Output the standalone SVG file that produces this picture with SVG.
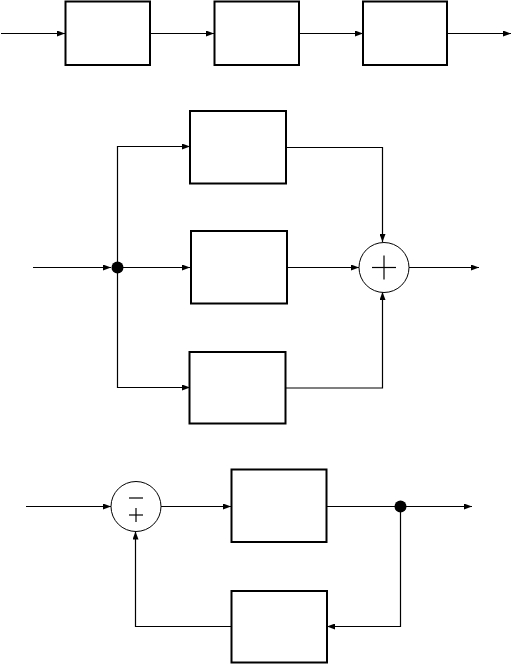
<svg xmlns="http://www.w3.org/2000/svg" width="513" height="665" viewBox="0 0 513 665">
<defs>
<marker id="ah" markerWidth="8" markerHeight="6" refX="8" refY="3" orient="auto" markerUnits="userSpaceOnUse">
<path d="M0,0 L8,3 L0,6 Z" fill="#000"/>
</marker>
<style>
.box{fill:#fff;stroke:#000;stroke-width:2}
.ln{fill:none;stroke:#000;stroke-width:1.2}
.ar{fill:none;stroke:#000;stroke-width:1.2;marker-end:url(#ah)}
.sum{fill:#fff;stroke:#000;stroke-width:1}
.dot{fill:#000}
</style>
</defs>
<rect width="513" height="665" fill="#fff"/>
<g id="connectors">
<!-- top chain -->
<line class="ar" x1="1" y1="33.5" x2="65" y2="33.5"/>
<line class="ar" x1="150" y1="33.5" x2="214" y2="33.5"/>
<line class="ar" x1="299" y1="33.5" x2="363" y2="33.5"/>
<line class="ar" x1="447" y1="33.5" x2="511" y2="33.5"/>
<!-- parallel -->
<line class="ar" x1="33" y1="267.5" x2="111" y2="267.5"/>
<polyline class="ar" points="117.5,267 117.5,146.5 190,146.5"/>
<line class="ar" x1="123" y1="267.5" x2="190" y2="267.5"/>
<polyline class="ar" points="117.5,267 117.5,387.5 190,387.5"/>
<polyline class="ar" points="286,147.5 382.5,147.5 382.5,242"/>
<line class="ar" x1="287" y1="267.5" x2="359" y2="267.5"/>
<polyline class="ar" points="286,388 382.5,388 382.5,292"/>
<line class="ar" x1="409" y1="267.5" x2="479" y2="267.5"/>
<!-- feedback -->
<line class="ar" x1="26" y1="506.5" x2="111" y2="506.5"/>
<line class="ar" x1="161" y1="506.5" x2="231" y2="506.5"/>
<line class="ln" x1="327" y1="506.5" x2="400" y2="506.5"/>
<line class="ar" x1="400" y1="506.5" x2="472" y2="506.5"/>
<polyline class="ar" points="400.5,506.5 400.5,626.5 327,626.5"/>
<polyline class="ar" points="231,626.5 135.5,626.5 135.5,531.5"/>
</g>
<g id="block1"><rect class="box" x="65.5" y="1.5" width="84.5" height="63.5"/></g>
<g id="block2"><rect class="box" x="214.5" y="1.5" width="84.5" height="63.5"/></g>
<g id="block3"><rect class="box" x="363" y="1.5" width="84" height="63.5"/></g>
<g id="par1"><rect class="box" x="190" y="111" width="96" height="72.5"/></g>
<g id="par2"><rect class="box" x="191" y="231" width="96" height="72.5"/></g>
<g id="par3"><rect class="box" x="189.5" y="352" width="96" height="71.5"/></g>
<g id="split1"><circle class="dot" cx="117.5" cy="267.5" r="6"/></g>
<g id="sum1">
<circle class="sum" cx="384" cy="267.5" r="25"/>
<line class="ln" x1="372" y1="267.5" x2="396" y2="267.5"/>
<line class="ln" x1="384" y1="255.5" x2="384" y2="279.5"/>
</g>
<g id="sum2">
<circle class="sum" cx="136" cy="506.5" r="25"/>
<line class="ln" x1="129" y1="498" x2="143" y2="498"/>
<line class="ln" x1="129" y1="515" x2="143" y2="515"/>
<line class="ln" x1="136" y1="508" x2="136" y2="522"/>
</g>
<g id="plant"><rect class="box" x="231.5" y="469.5" width="95" height="72.5"/></g>
<g id="feedbackblock"><rect class="box" x="231.5" y="591" width="95.5" height="71.5"/></g>
<g id="split2"><circle class="dot" cx="400.5" cy="506.5" r="6"/></g>
</svg>
